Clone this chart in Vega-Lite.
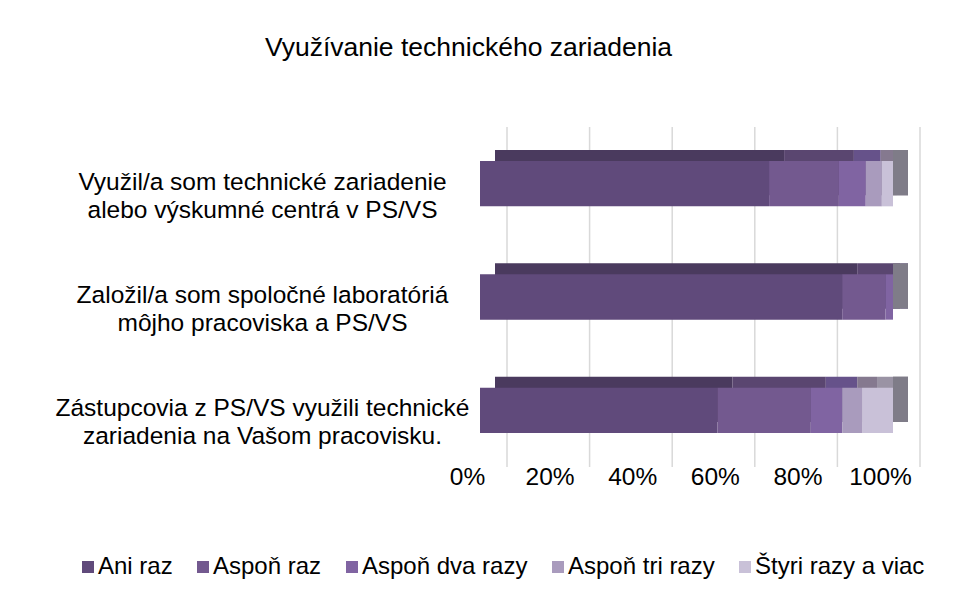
{
  "$schema": "https://vega.github.io/schema/vega-lite/v6.json",
  "autosize": {"type": "none"},
  "width": 413,
  "height": 340,
  "padding": {"left": 480, "top": 127, "right": 83, "bottom": 128},
  "background": "white",
  "config": {
    "font": "Liberation Sans",
    "view": {"stroke": null}
  },
  "title": {
    "text": "Využívanie technického zariadenia",
    "font": "Liberation Sans",
    "fontSize": 26.5,
    "fontWeight": "normal",
    "color": "#000000",
    "anchor": "middle",
    "frame": "group",
    "baseline": "alphabetic",
    "dx": -218,
    "offset": 44
  },
  "datasets": {
    "bars": [
      {"q": "Využil/a som technické zariadenie|alebo výskumné centrá v PS/VS", "cat": "Ani raz", "o": 1, "v": 70.0},
      {"q": "Využil/a som technické zariadenie|alebo výskumné centrá v PS/VS", "cat": "Aspoň raz", "o": 2, "v": 16.9},
      {"q": "Využil/a som technické zariadenie|alebo výskumné centrá v PS/VS", "cat": "Aspoň dva razy", "o": 3, "v": 6.5},
      {"q": "Využil/a som technické zariadenie|alebo výskumné centrá v PS/VS", "cat": "Aspoň tri razy", "o": 4, "v": 3.9},
      {"q": "Využil/a som technické zariadenie|alebo výskumné centrá v PS/VS", "cat": "Štyri razy a viac", "o": 5, "v": 2.7},
      {"q": "Založil/a som spoločné laboratóriá|môjho pracoviska a PS/VS", "cat": "Ani raz", "o": 1, "v": 87.7},
      {"q": "Založil/a som spoločné laboratóriá|môjho pracoviska a PS/VS", "cat": "Aspoň raz", "o": 2, "v": 10.5},
      {"q": "Založil/a som spoločné laboratóriá|môjho pracoviska a PS/VS", "cat": "Aspoň dva razy", "o": 3, "v": 1.8},
      {"q": "Založil/a som spoločné laboratóriá|môjho pracoviska a PS/VS", "cat": "Aspoň tri razy", "o": 4, "v": 0},
      {"q": "Založil/a som spoločné laboratóriá|môjho pracoviska a PS/VS", "cat": "Štyri razy a viac", "o": 5, "v": 0},
      {"q": "Zástupcovia z PS/VS využili technické|zariadenia na Vašom pracovisku.", "cat": "Ani raz", "o": 1, "v": 57.5},
      {"q": "Zástupcovia z PS/VS využili technické|zariadenia na Vašom pracovisku.", "cat": "Aspoň raz", "o": 2, "v": 22.6},
      {"q": "Zástupcovia z PS/VS využili technické|zariadenia na Vašom pracovisku.", "cat": "Aspoň dva razy", "o": 3, "v": 7.6},
      {"q": "Zástupcovia z PS/VS využili technické|zariadenia na Vašom pracovisku.", "cat": "Aspoň tri razy", "o": 4, "v": 4.8},
      {"q": "Zástupcovia z PS/VS využili technické|zariadenia na Vašom pracovisku.", "cat": "Štyri razy a viac", "o": 5, "v": 7.5}
    ],
    "grid": [{"p": 0}, {"p": 20}, {"p": 40}, {"p": 60}, {"p": 80}, {"p": 100}],
    "questions": [
      {"q": "Využil/a som technické zariadenie|alebo výskumné centrá v PS/VS"},
      {"q": "Založil/a som spoločné laboratóriá|môjho pracoviska a PS/VS"},
      {"q": "Zástupcovia z PS/VS využili technické|zariadenia na Vašom pracovisku."}
    ]
  },
  "layer": [
    {
      "data": {"name": "grid"},
      "mark": {"type": "rule", "color": "#d9d9d9", "strokeWidth": 1.5, "xOffset": 27},
      "encoding": {
        "x": {"field": "p", "type": "quantitative", "scale": {"domain": [0, 100]},
          "axis": {
            "values": [0, 20, 40, 60, 80, 100],
            "labelExpr": "datum.value + '%'",
            "grid": false, "ticks": false, "domain": false, "title": null,
            "labelFontSize": 24.5, "labelColor": "#000000", "labelFont": "Liberation Sans",
            "labelOffset": -13, "labelPadding": -2, "labelFlush": false
          }
        }
      }
    },
    {
      "data": {"name": "bars"},
      "mark": {"type": "bar", "xOffset": 15, "yOffset": -11, "y2Offset": -11},
      "encoding": {
        "y": {"field": "q", "type": "nominal", "sort": null},
        "x": {"field": "v", "type": "quantitative", "stack": "zero"},
        "order": {"field": "o", "type": "quantitative"},
        "color": {
          "field": "cat", "type": "nominal", "legend": null,
          "scale": {
            "domain": ["Ani raz", "Aspoň raz", "Aspoň dva razy", "Aspoň tri razy", "Štyri razy a viac"],
            "range": ["#4a3a5e", "#5a4670", "#66528a", "#85798f", "#9a93a4"]
          }
        }
      }
    },
    {
      "data": {"name": "questions"},
      "mark": {"type": "bar", "color": "#7f7c88", "x2Offset": 15, "yOffset": -11, "y2Offset": -11},
      "encoding": {
        "y": {"field": "q", "type": "nominal", "sort": null},
        "x": {"datum": 100},
        "x2": {"datum": 100}
      }
    },
    {
      "data": {"name": "bars"},
      "mark": {"type": "bar"},
      "encoding": {
        "y": {
          "field": "q", "type": "nominal", "sort": null,
          "scale": {"paddingInner": 0.6, "paddingOuter": 0.3},
          "axis": {
            "title": null, "ticks": false, "domain": false,
            "labelExpr": "split(datum.value, '|')",
            "labelAlign": "center", "labelBaseline": "middle",
            "labelPadding": 218, "labelFontSize": 24.5, "labelLineHeight": 28,
            "labelColor": "#000000", "labelFont": "Liberation Sans", "labelOffset": -1,
            "labelLimit": 0
          }
        },
        "x": {"field": "v", "type": "quantitative", "stack": "zero"},
        "order": {"field": "o", "type": "quantitative"},
        "color": {
          "field": "cat", "type": "nominal",
          "scale": {
            "domain": ["Ani raz", "Aspoň raz", "Aspoň dva razy", "Aspoň tri razy", "Štyri razy a viac"],
            "range": ["#604a7b", "#73598f", "#8064a2", "#a99bbd", "#c9c1d8"]
          },
          "legend": {
            "title": null, "orient": "none", "direction": "horizontal",
            "legendX": -404, "legendY": 428, "columns": 5,
            "symbolType": "square", "symbolSize": 144, "symbolStrokeWidth": 0,
            "labelFontSize": 24, "labelColor": "#000000", "labelFont": "Liberation Sans",
            "labelOffset": -2, "columnPadding": 18, "padding": 0, "labelLimit": 0
          }
        }
      }
    }
  ],
  "resolve": {"scale": {"color": "independent"}}
}
